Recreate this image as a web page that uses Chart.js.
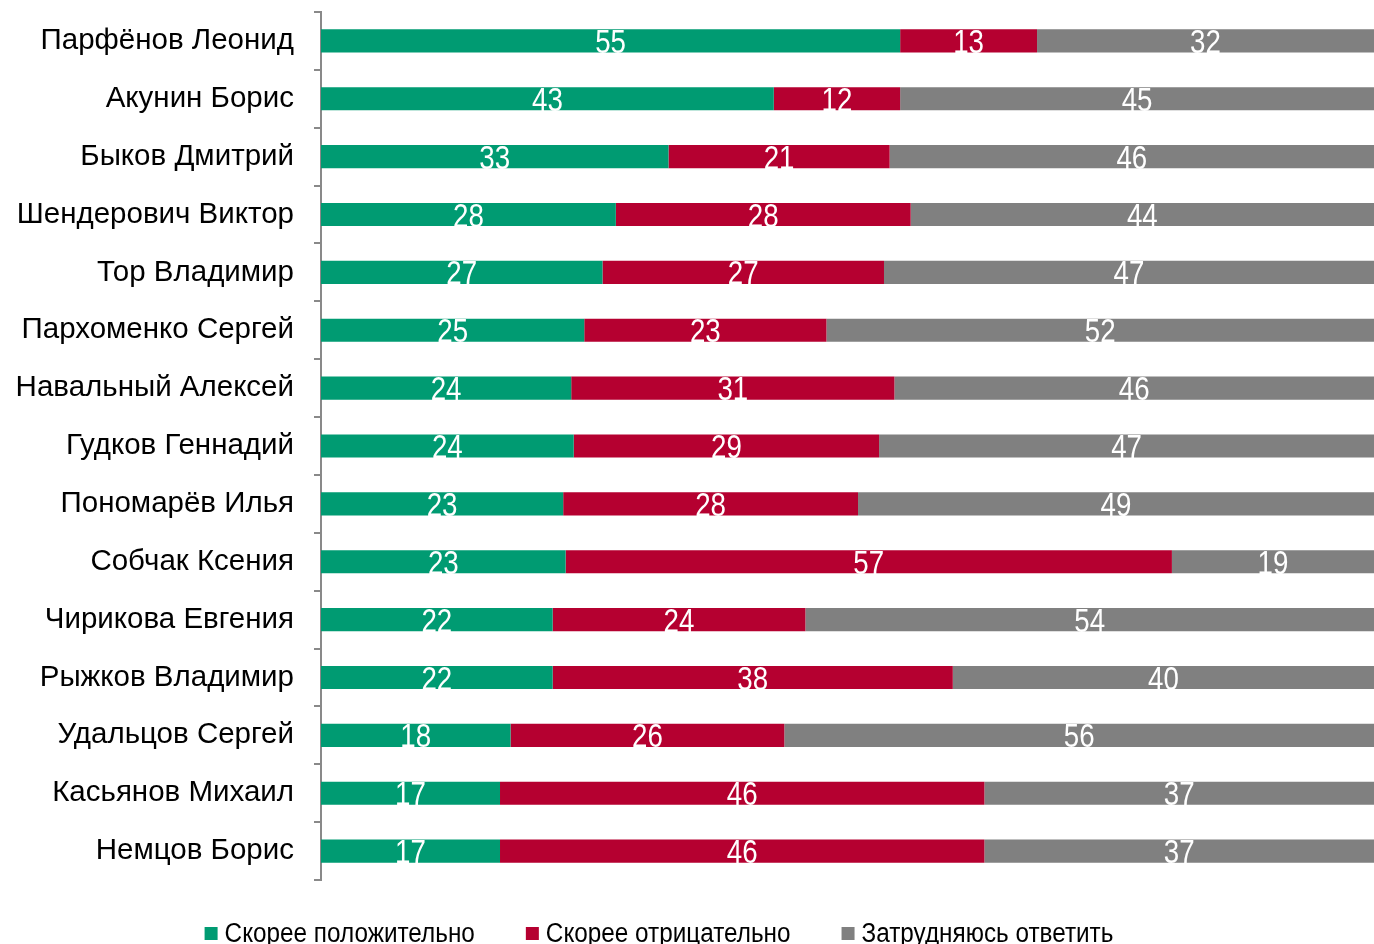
<!DOCTYPE html>
<html>
<head>
<meta charset="utf-8">
<script src="https://cdn.jsdelivr.net/npm/chart.js@4"></script>
<style>
  html, body { margin: 0; padding: 0; background: #fff; overflow: hidden; }
  #wrap { width: 1374px; height: 944px; }
</style>
</head>
<body>
<div id="wrap"><canvas id="myChart"></canvas></div>
<script>
// имена
const names = ['Парфёнов Леонид', 'Акунин Борис', 'Быков Дмитрий', 'Шендерович Виктор', 'Тор Владимир',
  'Пархоменко Сергей', 'Навальный Алексей', 'Гудков Геннадий', 'Пономарёв Илья', 'Собчак Ксения',
  'Чирикова Евгения', 'Рыжков Владимир', 'Удальцов Сергей', 'Касьянов Михаил', 'Немцов Борис']
// проценты
const positive = [55, 43, 33, 28, 27, 25, 24, 24, 23, 23, 22, 22, 18, 17, 17]
const negative = [13, 12, 21, 28, 27, 23, 31, 29, 28, 57, 24, 38, 26, 46, 46]
const unsure = [32, 45, 46, 44, 47, 52, 46, 47, 49, 19, 54, 40, 56, 37, 37]

const seriesNames = ['Скорее положительно', 'Скорее отрицательно', 'Затрудняюсь ответить']
const colors = ['#009B72', '#B50030', '#808080']

// каждая строка растягивается до 100%
const totals = names.map((n, i) => positive[i] + negative[i] + unsure[i])
const share = arr => arr.map((v, i) => v / totals[i] * 100)
const raw = [positive, negative, unsure]

// узкий шрифт: обычный Liberation Sans, сжатый по горизонтали
const NARROW = 0.84
const NARROW_LEGEND = 0.9

const valueLabels = {
  id: 'valueLabels',
  afterDatasetsDraw(chart) {
    const ctx = chart.ctx
    ctx.save()
    ctx.fillStyle = '#fff'
    ctx.font = '33px "Liberation Sans", Arial, sans-serif'
    ctx.textAlign = 'center'
    ctx.textBaseline = 'middle'
    chart.data.datasets.forEach((ds, d) => {
      chart.getDatasetMeta(d).data.forEach((bar, i) => {
        const cx = (bar.base + bar.x) / 2
        ctx.save()
        ctx.translate(cx, bar.y + 3)
        ctx.scale(NARROW, 1)
        ctx.fillText(raw[d][i], 0, 0)
        ctx.restore()
      })
    })
    ctx.restore()
  }
}

const narrowLegend = {
  id: 'narrowLegend',
  afterDraw(chart) {
    const ctx = chart.ctx
    ctx.save()
    ctx.font = '27px "Liberation Sans", Arial, sans-serif'
    ctx.textBaseline = 'middle'
    const box = 13, gap = 7, between = 51
    const widths = seriesNames.map(s => box + gap + ctx.measureText(s).width * NARROW_LEGEND)
    const total = widths.reduce((a, b) => a + b, 0) + between * (widths.length - 1)
    let x = chart.width / 2 - total / 2 - 28
    const y = 934
    seriesNames.forEach((s, d) => {
      ctx.fillStyle = colors[d]
      ctx.fillRect(x, y - 7, box, box)
      ctx.fillStyle = '#000'
      ctx.save()
      ctx.translate(x + box + gap, y + 1)
      ctx.scale(NARROW_LEGEND, 1)
      ctx.fillText(s, 0, 0)
      ctx.restore()
      x += widths[d] + between
    })
    ctx.restore()
  }
}

new Chart('myChart', {
  type: 'bar',
  data: {
    labels: names,
    datasets: raw.map((arr, d) => ({
      label: seriesNames[d],
      data: share(arr),
      backgroundColor: colors[d],
      categoryPercentage: 1,
      barPercentage: 0.4
    }))
  },
  options: {
    indexAxis: 'y',
    responsive: true,
    maintainAspectRatio: false,
    animation: false,
    layout: { padding: { top: 12, right: 0, left: 0, bottom: 0 } },
    scales: {
      x: {
        stacked: true, min: 0, max: 100,
        ticks: { display: false },
        grid: { display: false },
        border: { display: false },
        afterFit: s => { s.height = 64; s.paddingLeft = 0; s.paddingRight = 0 }
      },
      y: {
        stacked: true,
        afterFit: s => { s.width = 321; s.paddingTop = 0; s.paddingBottom = 0 },
        grid: { drawOnChartArea: false, tickLength: 7, color: '#898989', lineWidth: 2 },
        border: { color: '#898989', width: 2 },
        ticks: {
          color: '#000',
          padding: 20,
          font: { family: '"Liberation Sans", Arial, sans-serif', size: 29.5 }
        }
      }
    },
    plugins: {
      tooltip: { enabled: false },
      legend: { display: false }
    }
  },
  plugins: [valueLabels, narrowLegend]
})
</script>
</body>
</html>
